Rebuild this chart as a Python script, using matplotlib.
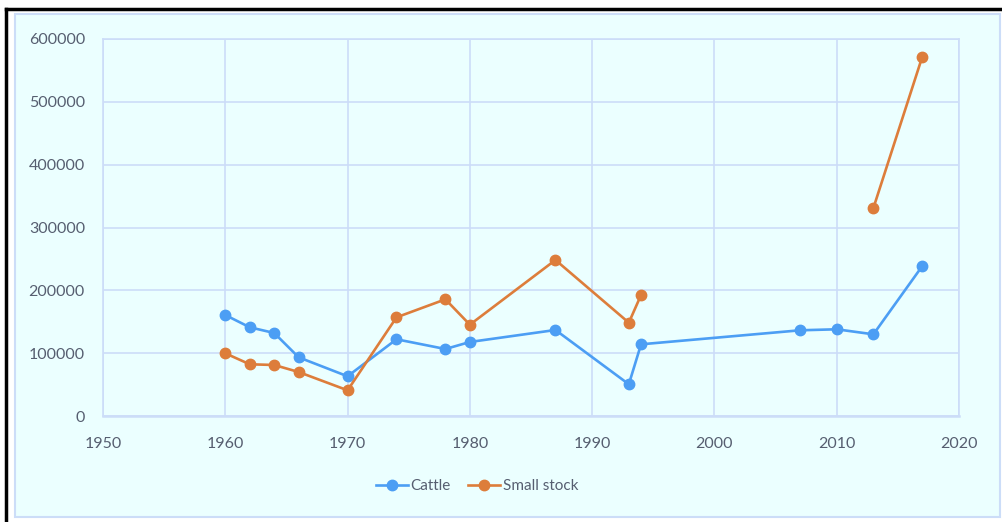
import numpy as np
import matplotlib
matplotlib.use('Agg')
import matplotlib.pyplot as plt
from matplotlib.patches import Rectangle
from matplotlib.lines import Line2D

plt.rcParams['font.family'] = ['Lato', 'DejaVu Sans']

# anos e efetivos
anos = [1960, 1962, 1964, 1966, 1970, 1974, 1978, 1980, 1987, 1993, 1994, 2007, 2010, 2013, 2017]
cattle = [160700, 141200, 132100, 93400, 63200, 122100, 106600, 117800, 136900, 50500, 114100,
          136400, 138000, 130000, 238700]
small_stock = [99800, 82300, 81200, 70000, 40900, 157000, 185700, 145300, 248300, 148500, 192600,
               np.nan, np.nan, 331000, 571900]

azul = '#4C9EF4'
laranja = '#DD7D3B'
grade = '#CCDDF8'
texto = '#565E70'

fig = plt.figure(figsize=(10.03, 5.22), dpi=100, facecolor='white')

# fundo do gráfico + bordas
fig.patches.append(Rectangle((15 / 1003, 1 - 517 / 522), 985 / 1003, 503 / 522,
                             transform=fig.transFigure, facecolor='#EBFFFF',
                             edgecolor=grade, linewidth=1.5, zorder=-10))
fig.lines.append(Line2D([6 / 1003, 1.0], [1 - 8.5 / 522, 1 - 8.5 / 522],
                        transform=fig.transFigure, color='black', linewidth=2.5, zorder=-5))
fig.lines.append(Line2D([6 / 1003, 6 / 1003], [0, 1 - 8.5 / 522],
                        transform=fig.transFigure, color='black', linewidth=2.5, zorder=-5))

ax = fig.add_axes([103 / 1003, 1 - 416 / 522, 856 / 1003, 377 / 522])
ax.set_facecolor('none')

ax.plot(anos, cattle, color=azul, linewidth=1.9, marker='o', markersize=7.5, label='Cattle', zorder=3)
ax.plot(anos, small_stock, color=laranja, linewidth=1.9, marker='o', markersize=7.5,
        label='Small stock', zorder=3)

ax.set_xlim(1950, 2020)
ax.set_ylim(0, 600000)
ax.set_xticks(np.arange(1950, 2021, 10))
ax.set_yticks(np.arange(0, 600001, 100000))
ax.grid(True, color=grade, linewidth=1.2)
ax.set_axisbelow(True)
for lado in ax.spines.values():
    lado.set_color(grade)
    lado.set_linewidth(1.2)
ax.spines['bottom'].set_linewidth(1.8)
ax.tick_params(axis='both', length=0, labelsize=11.5, labelcolor=texto)
ax.tick_params(axis='y', pad=13)
ax.tick_params(axis='x', pad=15)

fig.legend(loc='center', bbox_to_anchor=(477 / 1003, 1 - 486 / 522), ncol=2, frameon=False,
           fontsize=11, labelcolor=texto, handlelength=2.1, handletextpad=0.2,
           columnspacing=1.1)

plt.savefig('out.png', dpi=100, facecolor=fig.get_facecolor())
